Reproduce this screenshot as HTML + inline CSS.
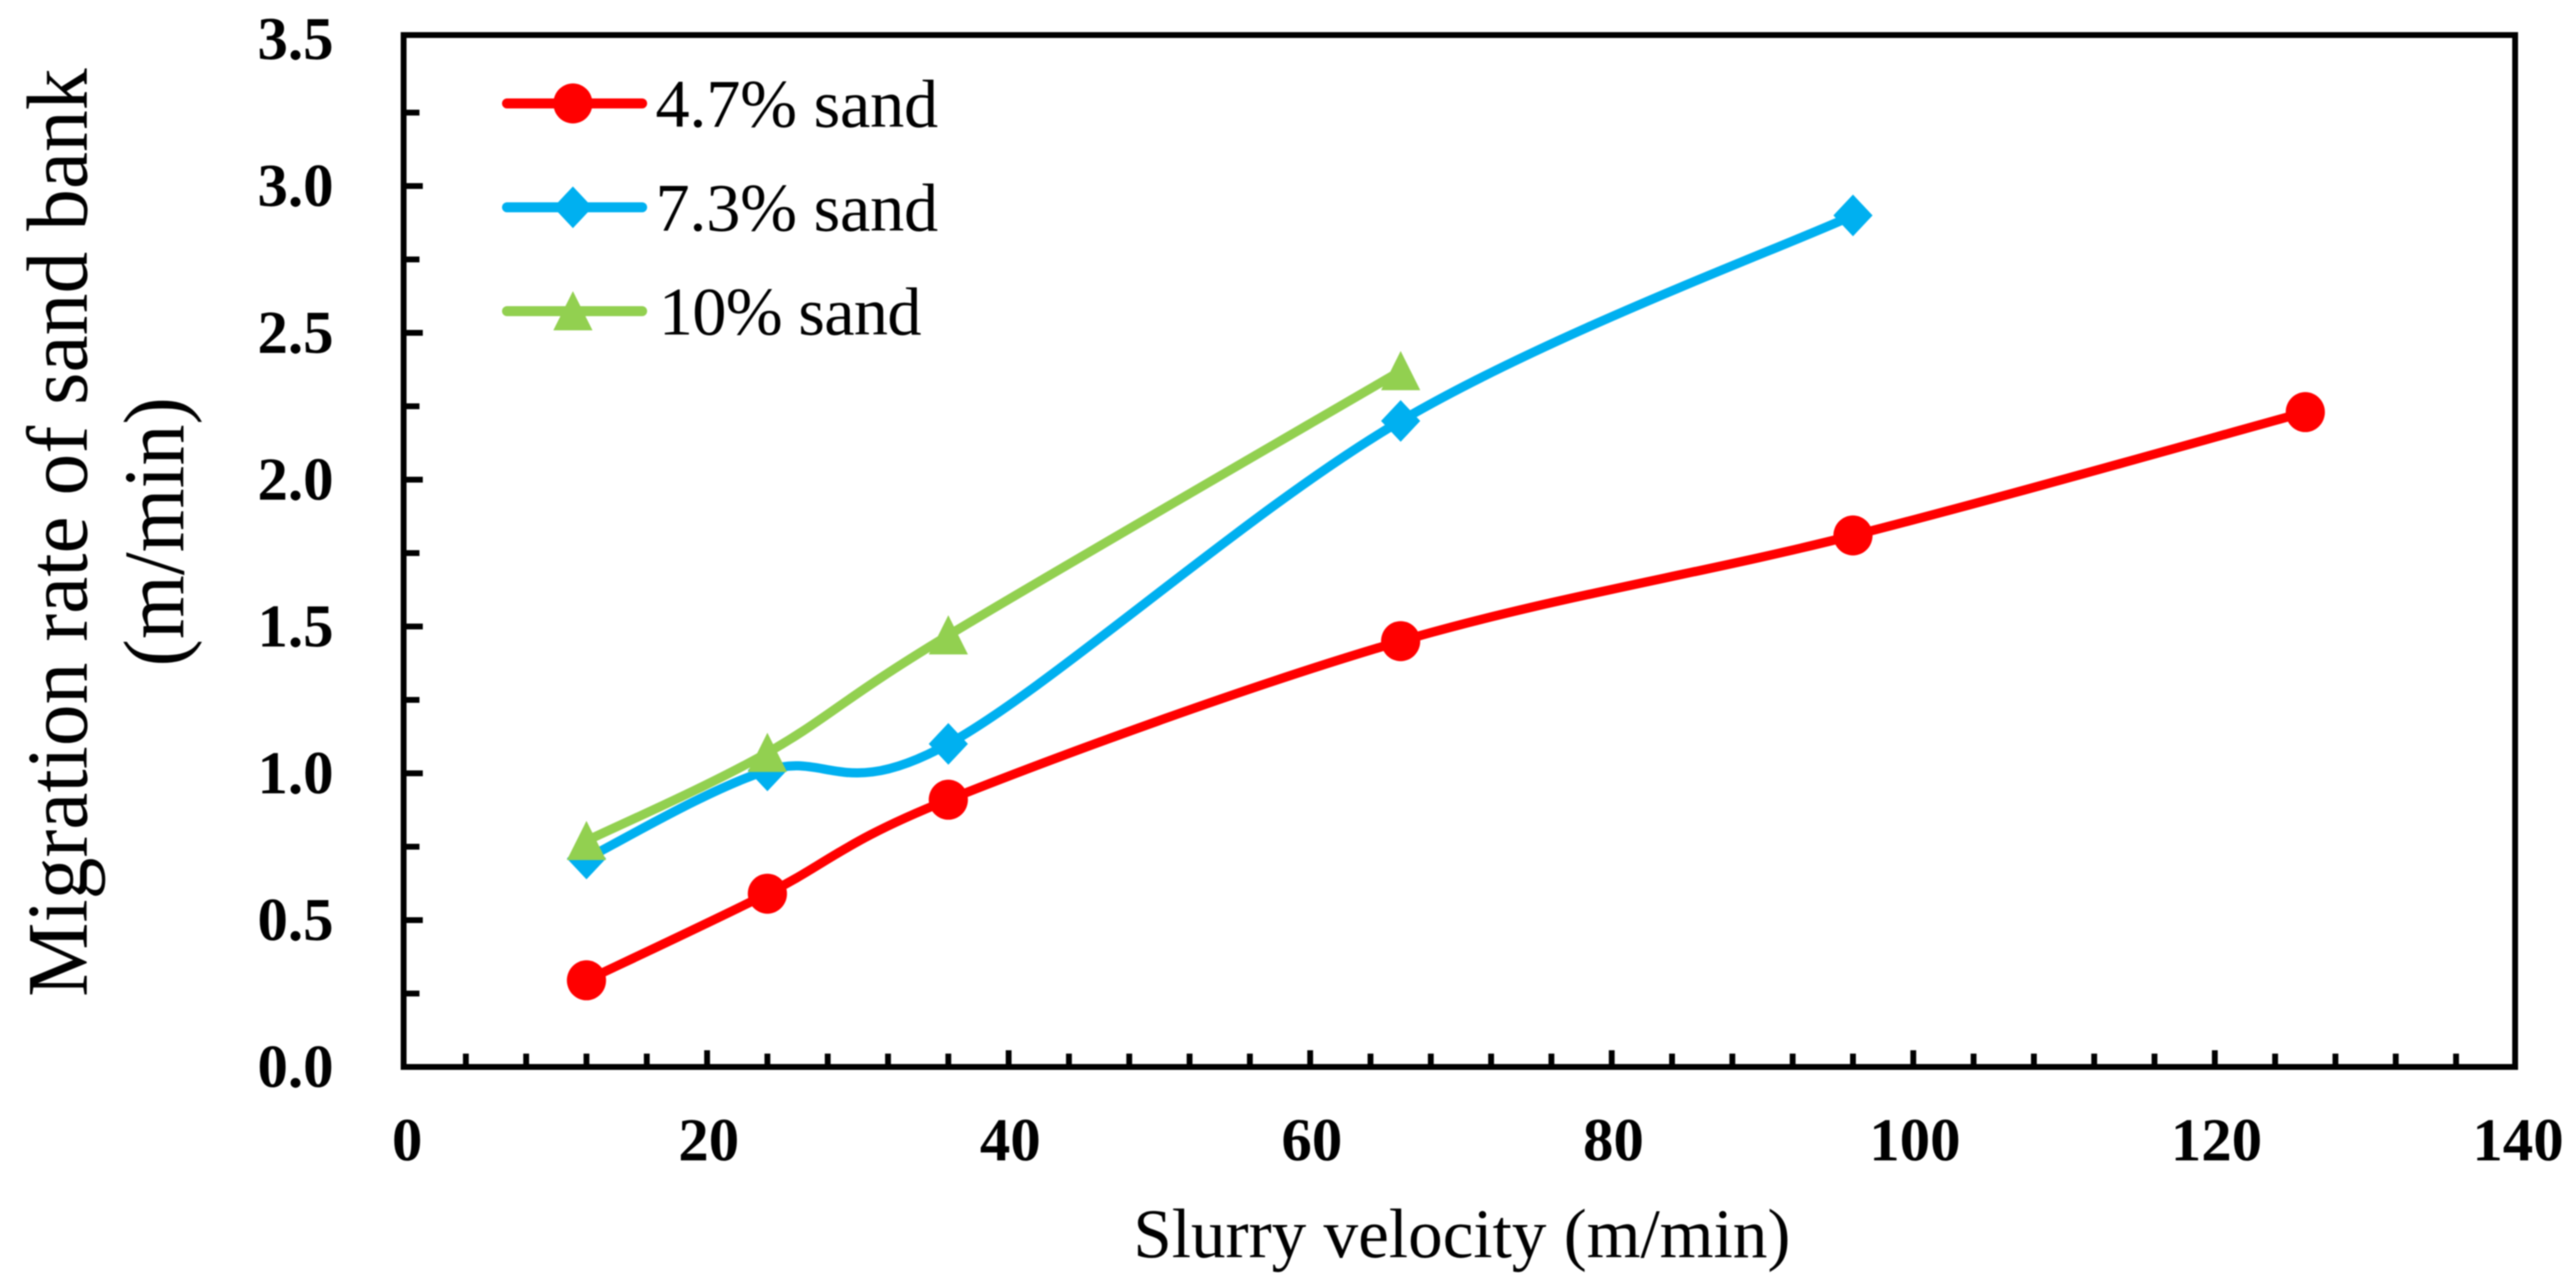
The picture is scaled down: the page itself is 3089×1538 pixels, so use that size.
<!DOCTYPE html>
<html>
<head>
<meta charset="utf-8">
<title>Migration rate of sand bank vs slurry velocity</title>
<style>
html,body{margin:0;padding:0;background:#fff;width:3089px;height:1538px;overflow:hidden}
svg{display:block;filter:blur(0.8px)}
text{font-family:"Liberation Serif",serif;fill:#000}
</style>
</head>
<body>
<svg id="chart" xmlns="http://www.w3.org/2000/svg" width="3089" height="1538" viewBox="0 0 3089 1538">
  <rect x="0" y="0" width="3089" height="1538" fill="#fff"/>
  <g id="ticks"></g>
  <rect x="484" y="42" width="2532" height="1237" fill="none" stroke="#000" stroke-width="7"/>
  <g id="tick-labels"></g>
  <g id="series"></g>
  <g id="legend"></g>
  <text x="1359" y="1507" font-size="84" textLength="788" lengthAdjust="spacingAndGlyphs">Slurry velocity (m/min)</text>
  <text transform="translate(104,1195) rotate(-90)" font-size="104" textLength="1113" lengthAdjust="spacingAndGlyphs">Migration rate of sand bank</text>
  <text transform="translate(220,799) rotate(-90)" font-size="104" textLength="323" lengthAdjust="spacingAndGlyphs">(m/min)</text>
</svg>
<script>
var xTickLabels = ['0','20','40','60','80','100','120','140'];
var yTickLabels = ['0.0','0.5','1.0','1.5','2.0','2.5','3.0','3.5'];
var legendLabels = ['4.7% sand','7.3% sand','10% sand'];
var sand47X = [12,24,36,66,96,126];
var sand47Y = [0.295,0.59,0.91,1.45,1.81,2.23];
var sand73X = [12,24,36,66,96];
var sand73Y = [0.71,1.01,1.10,2.20,2.90];
var sand10X = [12,24,36,66];
var sand10Y = [0.77,1.07,1.47,2.37];

var NS = 'http://www.w3.org/2000/svg';
function sx(v){ return 486.3 + 18.08 * v; }
function sy(v){ return 1279 - 352 * v; }
function make(tag, attrs, parent){
  var el = document.createElementNS(NS, tag);
  for (var k in attrs) el.setAttribute(k, attrs[k]);
  parent.appendChild(el);
  return el;
}
function smoothPath(xs, ys){
  var pts = xs.map(function(x,i){ return [sx(x), sy(ys[i])]; });
  var d = 'M' + pts[0][0] + ' ' + pts[0][1];
  for (var i = 0; i < pts.length - 1; i++){
    var p0 = pts[Math.max(i-1,0)], p1 = pts[i], p2 = pts[i+1], p3 = pts[Math.min(i+2,pts.length-1)];
    var c1x = p1[0] + (p2[0]-p0[0])/6, c1y = p1[1] + (p2[1]-p0[1])/6;
    var c2x = p2[0] - (p3[0]-p1[0])/6, c2y = p2[1] - (p3[1]-p1[1])/6;
    d += ' C' + c1x + ' ' + c1y + ' ' + c2x + ' ' + c2y + ' ' + p2[0] + ' ' + p2[1];
  }
  return d;
}
function marker(kind, cx, cy, color, parent){
  var el;
  if (kind === 'circle'){
    el = make('ellipse', {cx:cx, cy:cy, rx:23.5, ry:24, fill:color}, parent);
  } else if (kind === 'diamond'){
    el = make('polygon', {points:(cx)+','+(cy-25)+' '+(cx+23.5)+','+cy+' '+(cx)+','+(cy+25)+' '+(cx-23.5)+','+cy, fill:color}, parent);
  } else {
    el = make('polygon', {points:(cx)+','+(cy-24)+' '+(cx+23.5)+','+(cy+23)+' '+(cx-23.5)+','+(cy+23), fill:color}, parent);
  }
  return el;
}

var ticksG = document.getElementById('ticks');
var labelsG = document.getElementById('tick-labels');
var seriesG = document.getElementById('series');
var legendG = document.getElementById('legend');

// x ticks: 5 intervals per labelled step
var xStep = 20 / 5;
var xMajorCount = xTickLabels.length - 1;
for (var i = 1; i < xMajorCount * 5; i++){
  var major = i % 5 === 0;
  var tx = sx(i * xStep);
  var t = make('line', {x1:tx, x2:tx, y1:1279, y2:major ? 1259 : 1263, stroke:'#000', 'stroke-width':7}, ticksG);
  
  
}
// y ticks: 2 intervals per labelled step
var yMajorCount = yTickLabels.length - 1;
for (var j = 1; j < yMajorCount * 2; j++){
  var yMajor = j % 2 === 0;
  var ty = sy(j * 0.25);
  var yt = make('line', {x1:484, x2:yMajor ? 507 : 503, y1:ty, y2:ty, stroke:'#000', 'stroke-width':7}, ticksG);
  
  
}
// tick labels
xTickLabels.forEach(function(lab){
  var el = make('text', {x:sx(parseFloat(lab)) + 2, y:1391, 'font-size':73, 'font-weight':'bold', 'text-anchor':'middle'}, labelsG);
  el.textContent = lab;
  
  
});
yTickLabels.forEach(function(lab){
  var el = make('text', {x:400, y:sy(parseFloat(lab)) + 24, 'font-size':73, 'font-weight':'bold', 'text-anchor':'end'}, labelsG);
  el.textContent = lab;
  
  
});

// series
function drawSeries(name, xs, ys, color, kind){
  var g = make('g', {}, seriesG);
  
  
  var p = make('path', {d:smoothPath(xs, ys), fill:'none', stroke:color, 'stroke-width':11, 'stroke-linecap':'round', 'stroke-linejoin':'round'}, g);
  
  
  xs.forEach(function(x, i){
    var m = marker(kind, sx(x), sy(ys[i]), color, g);
    
    
  });
}
drawSeries('series-4-7-sand', sand47X, sand47Y, '#FF0000', 'circle');
drawSeries('series-7-3-sand', sand73X, sand73Y, '#00B0F0', 'diamond');
drawSeries('series-10-sand', sand10X, sand10Y, '#92D050', 'triangle');

// legend
var legendColors = ['#FF0000','#00B0F0','#92D050'];
var legendKinds = ['circle','diamond','triangle'];
legendLabels.forEach(function(lab, i){
  var row = 124 + i * 124.5;
  var line = make('line', {x1:608, x2:770, y1:row, y2:row, stroke:legendColors[i], 'stroke-width':12, 'stroke-linecap':'round'}, legendG);
  
  
  var mk = marker(legendKinds[i], 687, row, legendColors[i], legendG);
  
  
  var tx = make('text', {x:i === 2 ? 790 : 786, y:row + 28, 'font-size':82, textLength:i === 2 ? 315 : 339, lengthAdjust:'spacing'}, legendG);
  tx.textContent = lab;
  
  
});
</script>
</body>
</html>
